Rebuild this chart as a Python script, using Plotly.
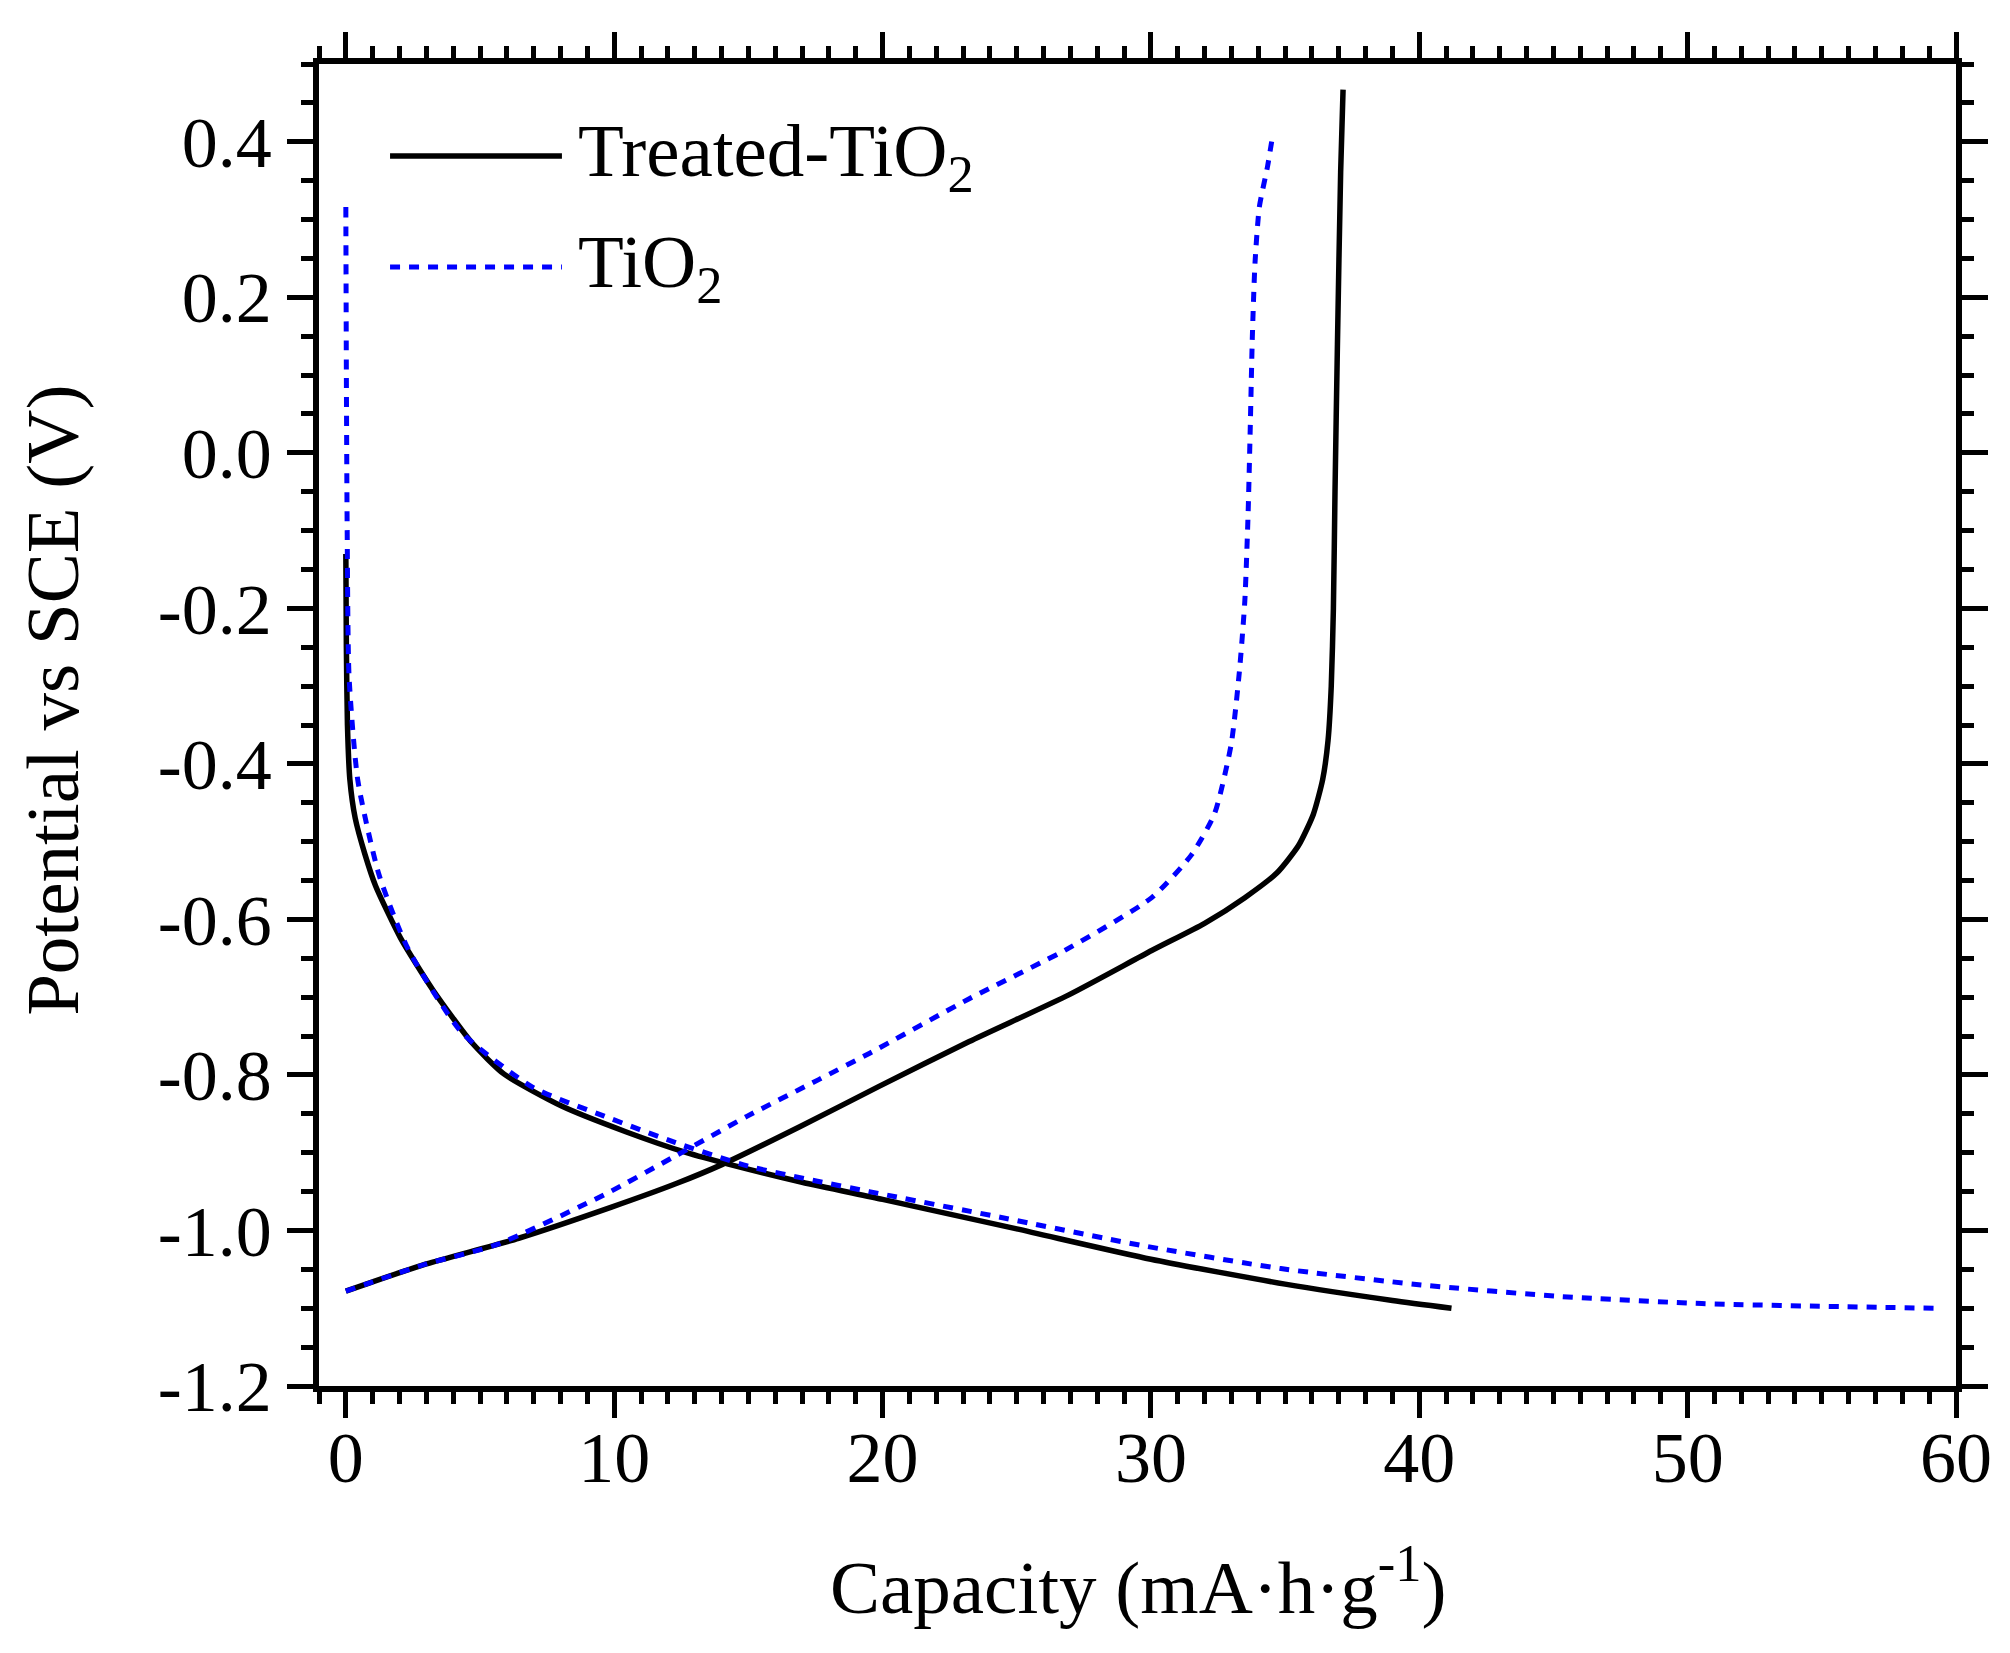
import plotly.graph_objects as go

# Treated-TiO2, discharge and charge branches
treated_dis_x = [0.0, 0.02, 0.06, 0.15, 0.35, 0.71, 1.11, 2.04, 3.25, 4.71, 5.90, 8.04,
                 10.43, 12.70, 14.29, 17.0, 20.0, 25.0, 30.0, 35.0, 39.0, 41.2]
treated_dis_y = [-0.13, -0.25, -0.35, -0.42, -0.47, -0.516, -0.557, -0.624, -0.691, -0.759,
                 -0.799, -0.840, -0.873, -0.900, -0.915, -0.938, -0.960, -0.998, -1.037,
                 -1.069, -1.090, -1.100]
treated_chg_x = [0.0, 1.0, 3.0, 6.44, 9.90, 12.29, 14.03, 16.95, 19.85, 23.23, 26.94, 30.03,
                 32.0, 33.5, 34.7, 35.5, 36.05, 36.4, 36.6, 36.72, 36.8, 36.86, 36.95, 37.07,
                 37.16]
treated_chg_y = [-1.078, -1.066, -1.043, -1.010, -0.970, -0.940, -0.915, -0.866, -0.815,
                 -0.757, -0.697, -0.640, -0.605, -0.572, -0.540, -0.505, -0.465, -0.420,
                 -0.370, -0.300, -0.200, -0.050, 0.139, 0.361, 0.467]

# TiO2, discharge and charge branches
tio2_dis_x = [0.0, 0.02, 0.05, 0.12, 0.45, 1.24, 2.32, 4.31, 6.97, 9.63, 12.29, 14.96, 17.62,
              19.5, 24.38, 29.61, 34.84, 40.07, 45.30, 50.53, 55.77, 59.3]
tio2_dis_y = [0.316, 0.1, -0.1, -0.288, -0.422, -0.543, -0.638, -0.745, -0.816, -0.853,
              -0.887, -0.917, -0.937, -0.950, -0.983, -1.019, -1.049, -1.070, -1.085,
              -1.094, -1.098, -1.100]
tio2_chg_x = [0.0, 1.0, 3.0, 5.64, 9.63, 12.29, 14.96, 17.62, 19.52, 23.23, 26.94, 30.03,
              31.51, 32.37, 32.99, 33.3, 33.5, 33.62, 33.7, 33.78, 33.88, 34.04, 34.35, 34.54]
tio2_chg_y = [-1.078, -1.066, -1.043, -1.018, -0.954, -0.904, -0.853, -0.806, -0.772,
              -0.702, -0.637, -0.572, -0.517, -0.464, -0.375, -0.280, -0.190, -0.080,
              0.030, 0.150, 0.245, 0.316, 0.369, 0.409]

x_ticks = [0, 10, 20, 30, 40, 50, 60]
y_ticks = [-1.2, -1.0, -0.8, -0.6, -0.4, -0.2, 0.0, 0.2, 0.4]
y_ticktext = ["%.1f" % v for v in y_ticks]

FONT = "Liberation Serif"
BLUE = "#0000ff"
BLUE_DASH = "10px,9px"

fig = go.Figure()
fig.add_trace(go.Scatter(x=treated_dis_x + [None] + treated_chg_x,
                         y=treated_dis_y + [None] + treated_chg_y,
                         mode="lines", name="Treated-TiO2",
                         line=dict(color="black", width=5.5, shape="spline", smoothing=0.6)))
fig.add_trace(go.Scatter(x=tio2_dis_x + [None] + tio2_chg_x,
                         y=tio2_dis_y + [None] + tio2_chg_y,
                         mode="lines", name="TiO2",
                         line=dict(color=BLUE, width=5, dash=BLUE_DASH,
                                   shape="spline", smoothing=0.6)))

axis_common = dict(showline=True, linecolor="black", linewidth=5.5, mirror="ticks",
                   ticks="outside", ticklen=26, tickwidth=5, tickcolor="black",
                   showgrid=False, zeroline=False,
                   tickfont=dict(family=FONT, size=72, color="black"))

fig.update_xaxes(range=[-1, 60], tickvals=x_ticks, ticklabelstandoff=-22,
                 minor=dict(dtick=1, ticklen=12, tickwidth=4.5, tickcolor="black", ticks="outside"),
                 **axis_common)
fig.update_yaxes(range=[-1.2, 0.5], tickvals=y_ticks, ticktext=y_ticktext, ticklabelstandoff=1,
                 minor=dict(dtick=0.05, tick0=0, ticklen=12, tickwidth=4.5, tickcolor="black",
                            ticks="outside"),
                 **axis_common)

# legend drawn by hand so the key lines are long, as in the original
leg_rows = [0.9304, 0.8464]
fig.add_shape(type="line", xref="paper", yref="paper", x0=0.0434, x1=0.1484,
              y0=leg_rows[0], y1=leg_rows[0], line=dict(color="black", width=5.5))
fig.add_shape(type="line", xref="paper", yref="paper", x0=0.0434, x1=0.1484,
              y0=leg_rows[1], y1=leg_rows[1], line=dict(color=BLUE, width=5, dash=BLUE_DASH))
fig.add_annotation(xref="paper", yref="paper", x=0.157, y=leg_rows[0], xanchor="left",
                   yanchor="middle", showarrow=False, text="Treated-TiO<sub>2</sub>",
                   font=dict(family=FONT, size=75, color="black"))
fig.add_annotation(xref="paper", yref="paper", x=0.157, y=leg_rows[1], xanchor="left",
                   yanchor="middle", showarrow=False, text="TiO<sub>2</sub>",
                   font=dict(family=FONT, size=75, color="black"))

# axis titles
fig.add_annotation(xref="paper", yref="paper", x=0.5, y=-0.148, xanchor="center",
                   yanchor="middle", showarrow=False, text="Capacity (mA·h·g<sup>-1</sup>)",
                   font=dict(family=FONT, size=75, color="black"))
fig.add_annotation(xref="paper", yref="paper", x=-0.1625, y=0.519, xanchor="center",
                   yanchor="middle", showarrow=False, textangle=-90,
                   text="Potential vs SCE (V)",
                   font=dict(family=FONT, size=75, color="black"))

# page body has an 8px margin, so the figure is a bit smaller than the window
fig.update_layout(width=2002, height=1645, showlegend=False,
                  margin=dict(l=311, r=54, t=56, b=267),
                  plot_bgcolor="white", paper_bgcolor="white")

fig.write_html("out.html")
